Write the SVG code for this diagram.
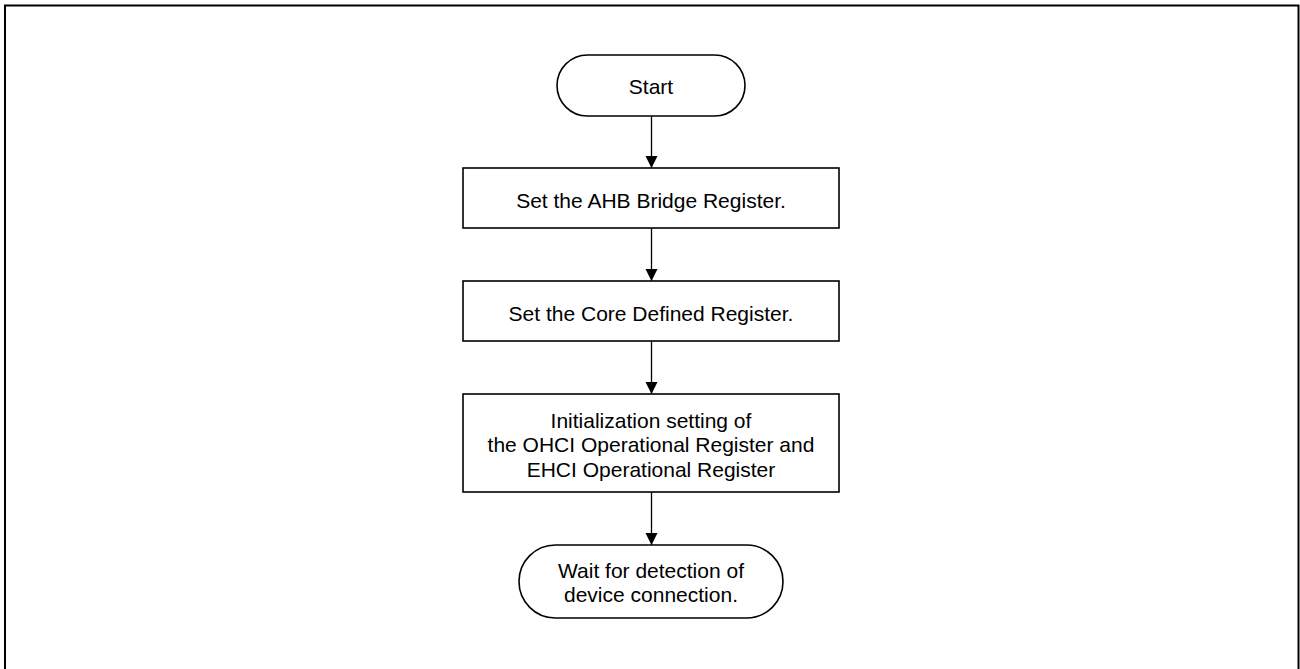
<svg xmlns="http://www.w3.org/2000/svg" width="1300" height="669" viewBox="0 0 1300 669">
<defs>
<marker id="arr" markerUnits="userSpaceOnUse" markerWidth="12" markerHeight="14" refX="12" refY="6" orient="auto">
<path d="M0,0 L12,6 L0,12 Z" fill="#000"/>
</marker>
<style>
.shape{fill:#fff;stroke:#000;stroke-width:1.6}
.t{font-family:"Liberation Sans",Arial,sans-serif;font-size:21px;fill:#000;text-anchor:middle}
.c{stroke:#000;stroke-width:1.3;fill:none}
</style>
</defs>
<rect x="0" y="0" width="1300" height="669" fill="#fff"/>
<rect id="frame" x="5" y="5.5" width="1293.5" height="700" fill="none" stroke="#000" stroke-width="2"/>
<g id="start">
<rect class="shape" x="557" y="55" width="188" height="61" rx="30.5" ry="30.5"/>
<text class="t" x="651" y="93.5">Start</text>
</g>
<g id="ahb">
<rect class="shape" x="463" y="168" width="376" height="60"/>
<text class="t" x="651" y="207.5">Set the AHB Bridge Register.</text>
</g>
<g id="core">
<rect class="shape" x="463" y="281" width="376" height="60"/>
<text class="t" x="651" y="320.5">Set the Core Defined Register.</text>
</g>
<g id="init">
<rect class="shape" x="463" y="394" width="376" height="98"/>
<text class="t" x="651" y="427.5">Initialization setting of</text>
<text class="t" x="651" y="452">the OHCI Operational Register and</text>
<text class="t" x="651" y="476.5">EHCI Operational Register</text>
</g>
<g id="wait">
<rect class="shape" x="519" y="545" width="264" height="73" rx="36.5" ry="36.5"/>
<text class="t" x="651" y="577.5">Wait for detection of</text>
<text class="t" x="651" y="602">device connection.</text>
</g>
<g id="connectors">
<line class="c" x1="651.5" y1="116" x2="651.5" y2="168" marker-end="url(#arr)"/>
<line class="c" x1="651.5" y1="228" x2="651.5" y2="281" marker-end="url(#arr)"/>
<line class="c" x1="651.5" y1="341" x2="651.5" y2="394" marker-end="url(#arr)"/>
<line class="c" x1="651.5" y1="492" x2="651.5" y2="545" marker-end="url(#arr)"/>
</g>
</svg>
